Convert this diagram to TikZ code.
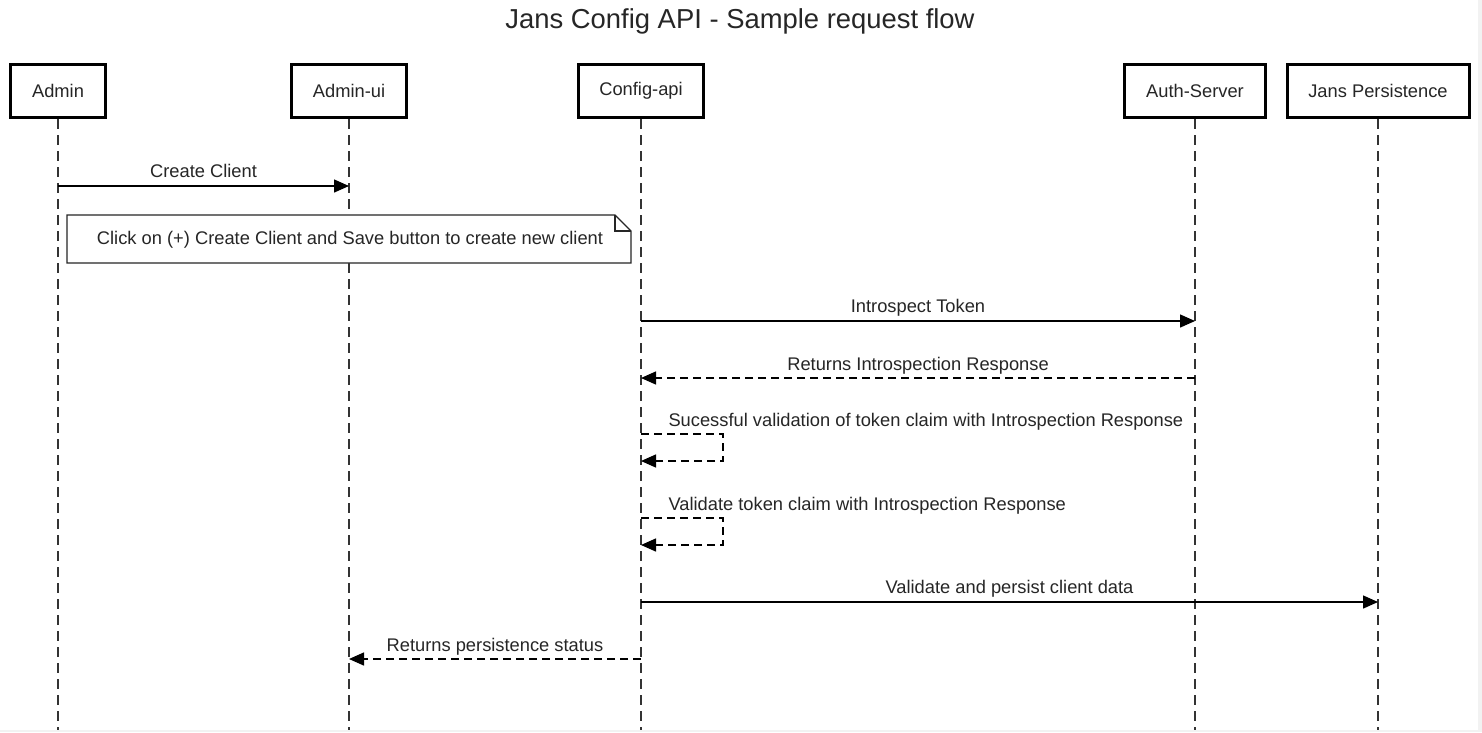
\documentclass[tikz,border=0pt]{standalone}
\usepackage{fontspec}
\setmainfont{Liberation Sans}
\usetikzlibrary{arrows.meta}
\begin{document}
\begin{tikzpicture}[x=1pt,y=-1pt,
  actor/.style={draw=black,line width=3pt,fill=white,minimum height=53pt,inner sep=0pt,font=\fontsize{18.3}{21}\selectfont,text=black!85},
  life/.style={draw=black!80,line width=1.6pt,dash pattern=on 10pt off 6pt},
  msg/.style={draw=black,line width=1.4pt,-{Triangle[length=15pt,width=13pt]}},
  ret/.style={msg,dash pattern=on 8pt off 5pt},
  lbl/.style={font=\fontsize{18.3}{21}\selectfont,text=black!85,text height=12.5pt,text depth=3.5pt},
  notebox/.style={draw=black!85,line width=1.2pt,fill=white}
]
\useasboundingbox (0,0) rectangle (1482,732);
\fill[white] (0,0) rectangle (1482,732);
\fill[black!5] (1478,0) rectangle (1482,732);
\fill[black!5] (0,729.5) rectangle (1482,732);

\node[font=\fontsize{27.4}{32}\selectfont,text=black!85] (title) at (740,21) {Jans Config API - Sample request flow};

% lifeline ends
\coordinate (adminEnd) at (58,730);
\coordinate (uiEnd) at (349,730);
\coordinate (cfgEnd) at (641,730);
\coordinate (authEnd) at (1195,730);
\coordinate (persEnd) at (1378,730);

\node[actor,minimum width=95pt] (admin) at (58,91) {Admin};
\node[actor,minimum width=115pt] (ui) at (349,91) {Admin-ui};
\node[actor,minimum width=125pt] (cfg) at (641,91) {Config-api};
\node[actor,minimum width=141pt] (auth) at (1195,91) {Auth-Server};
\node[actor,minimum width=182pt] (pers) at (1378,91) {Jans Persistence};

\draw[life] (admin.south) -- (adminEnd);
\draw[life] (ui.south) -- (uiEnd);
\draw[life] (cfg.south) -- (cfgEnd);
\draw[life] (auth.south) -- (authEnd);
\draw[life] (pers.south) -- (persEnd);

% message points
\coordinate (m1a) at (58,186);   \coordinate (m1b) at (349,186);
\coordinate (m2a) at (641,321);  \coordinate (m2b) at (1195,321);
\coordinate (m3a) at (1195,378); \coordinate (m3b) at (641,378);
\coordinate (s1a) at (641,434);  \coordinate (s1c) at (723,434);
\coordinate (s1d) at (723,461);  \coordinate (s1b) at (641,461);
\coordinate (s2a) at (641,518);  \coordinate (s2c) at (723,518);
\coordinate (s2d) at (723,545);  \coordinate (s2b) at (641,545);
\coordinate (m4a) at (641,602);  \coordinate (m4b) at (1378,602);
\coordinate (m5a) at (641,659);  \coordinate (m5b) at (349,659);

\draw[msg] (m1a) -- node[lbl,above=1pt] (l1) {Create Client} (m1b);

% note
\draw[notebox] (67,215) -- (615,215) -- (631,231) -- (631,263) -- (67,263) -- cycle;
\draw[notebox,fill=none] (615,215) -- (615,231) -- (631,231);
\node[lbl] (note) at (350,240) {Click on (+) Create Client and Save button to create new client};

\draw[msg] (m2a) -- node[lbl,above=1pt] (l2) {Introspect Token} (m2b);
\draw[ret] (m3a) -- node[lbl,above=0pt] (l3) {Returns Introspection Response} (m3b);

\draw[ret] (s1a) -- (s1c) -- (s1d) -- (s1b);
\node[lbl,anchor=west] (l4) at (665,422) {Sucessful validation of token claim with Introspection Response};
\draw[ret] (s2a) -- (s2c) -- (s2d) -- (s2b);
\node[lbl,anchor=west] (l5) at (665,506) {Validate token claim with Introspection Response};

\draw[msg] (m4a) -- node[lbl,above=1pt] (l6) {Validate and persist client data} (m4b);
\draw[ret] (m5a) -- node[lbl,above=0pt] (l7) {Returns persistence status} (m5b);
\end{tikzpicture}
\end{document}
